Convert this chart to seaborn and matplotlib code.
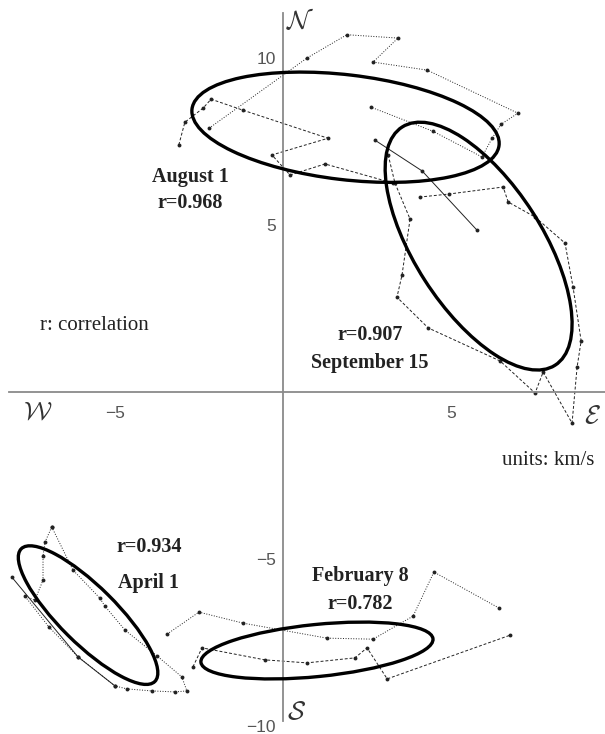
import matplotlib.pyplot as plt
import pandas as pd
import seaborn as sns
from matplotlib.patches import Ellipse

# hodograph traces (km/s)
aug_long_x = [-2.2, 0.71, 1.9, 3.42, 2.68, 4.29, 6.99, 6.49, 6.22, 5.92, 4.46, 2.62]
aug_long_y = [7.9, 10.0, 10.7, 10.6, 9.88, 9.64, 8.35, 8.02, 7.6, 7.04, 7.81, 8.53]
aug_short_x = [-3.10, -2.92, -2.38, -2.14, -1.19, 1.34, -0.33, 0.21, 1.25, 3.27]
aug_short_y = [7.40, 8.08, 8.50, 8.77, 8.44, 7.60, 7.10, 6.50, 6.83, 6.26]

sep_loop_x = [3.13, 3.33, 3.78, 3.54, 3.39, 4.32, 6.46, 7.5, 7.74, 8.60, 8.75, 8.87,
              8.63, 8.39, 7.5, 6.70, 6.55, 4.94, 4.08]
sep_loop_y = [7.10, 6.26, 5.18, 3.50, 2.84, 1.92, 0.93, -0.03, 0.60, -0.93, 0.75, 1.53,
              3.14, 4.46, 5.24, 5.69, 6.14, 5.93, 5.84]
sep_line_x = [2.74, 4.14, 5.77]
sep_line_y = [7.54, 6.62, 4.85]

apr_loop_x = [-6.88, -6.25, -5.45, -5.30, -4.70, -3.75, -3.01, -2.86, -3.21, -3.90,
              -4.64, -5.0, -6.10, -6.96, -7.68, -7.38, -7.14, -7.14, -7.08, -6.88]
apr_loop_y = [-4.04, -5.33, -6.17, -6.41, -7.13, -7.90, -8.53, -8.95, -8.98, -8.95,
              -8.89, -8.80, -7.93, -7.04, -6.11, -6.23, -5.63, -4.91, -4.49, -4.04]
apr_line_x = [-8.07, -6.10, -5.0]
apr_line_y = [-5.54, -7.93, -8.80]

feb_top_x = [-3.45, -2.5, -1.19, 1.31, 2.68, 3.87, 4.49, 6.43]
feb_top_y = [-7.25, -6.59, -6.92, -7.37, -7.40, -6.71, -5.39, -6.47]
feb_low_x = [-2.68, -2.41, -0.54, 0.71, 2.14, 2.5, 3.10, 6.76]
feb_low_y = [-8.23, -7.66, -8.02, -8.11, -7.96, -7.66, -8.59, -7.28]

# correlation ellipses: centre, semi-axes, tilt (deg)
ell_cx = [1.86, 5.82, -5.80, 1.01]
ell_cy = [7.93, 4.37, -6.68, -7.74]
ell_a = [4.6, 4.23, 2.81, 3.47]
ell_b = [1.57, 1.90, 0.85, 0.78]
ell_ang = [-6.8, -57.5, -45.0, 5.8]

sns.set_style("white")
plt.rcParams["font.family"] = ["Liberation Serif", "DejaVu Serif"]
plt.rcParams["mathtext.fontset"] = "cm"

fig = plt.figure(figsize=(6.05, 7.34), dpi=100)
ax = fig.add_axes([0, 0, 1, 1])
ax.set_xlim(-8.42, 9.58)
ax.set_ylim(-10.24, 11.74)

traces = [
    (aug_long_x, aug_long_y, ":"),
    (aug_short_x, aug_short_y, (0, (3, 2))),
    (sep_loop_x, sep_loop_y, (0, (3, 2))),
    (sep_line_x, sep_line_y, "-"),
    (apr_loop_x, apr_loop_y, ":"),
    (apr_line_x, apr_line_y, "-"),
    (feb_top_x, feb_top_y, ":"),
    (feb_low_x, feb_low_y, (0, (3, 2))),
]
for xs, ys, ls in traces:
    df = pd.DataFrame({"x": xs, "y": ys})
    sns.lineplot(data=df, x="x", y="y", sort=False, estimator=None, ax=ax,
                 color="#222222", linewidth=0.7, linestyle=ls,
                 marker="o", markersize=2.8, markeredgewidth=0)

for cx, cy, a, b, ang in zip(ell_cx, ell_cy, ell_a, ell_b, ell_ang):
    ax.add_patch(Ellipse((cx, cy), 2 * a, 2 * b, angle=ang, fill=False,
                         edgecolor="black", linewidth=2.4, zorder=5))

# axes through the origin
for side in ["top", "right"]:
    ax.spines[side].set_visible(False)
ax.spines["left"].set_position(("data", 0))
ax.spines["bottom"].set_position(("data", 0))
ax.spines["left"].set_bounds(-9.85, 11.35)
ax.spines["bottom"].set_bounds(-8.15, 9.58)
for side in ["left", "bottom"]:
    ax.spines[side].set_color("#8a8a8a")
    ax.spines[side].set_linewidth(1.3)

ax.set_xticks([-5, 5])
ax.set_yticks([-10, -5, 5, 10])
ax.set_xticks(range(-8, 10), minor=True)
ax.set_yticks(range(-9, 12), minor=True)
ax.tick_params(which="both", direction="in", color="#9a9a9a", width=0.8)
ax.tick_params(which="major", length=4)
ax.tick_params(which="minor", length=2.5)
ax.tick_params(axis="both", labelsize=12.5, labelcolor="#555555")
ax.tick_params(axis="x", pad=10)
ax.tick_params(axis="y", pad=5)
ax.set_xticklabels(["\u22125", "5"])
ax.set_yticklabels(["\u221210", "\u22125", "5", "10"])
for lab in ax.get_xticklabels() + ax.get_yticklabels():
    lab.set_family(["Liberation Sans", "DejaVu Sans"])
ax.set_xlabel("")
ax.set_ylabel("")

# compass letters
for txt, x, y in [("N", 0.5, 11.1), ("W", -7.29, -0.6), ("E", 9.2, -0.72), ("S", 0.39, -9.6)]:
    ax.text(x, y, r"$\mathcal{%s}$" % txt, fontsize=19, ha="center", va="center",
            color="#333333")

bold = dict(fontsize=14.5, fontweight="bold", ha="center", va="center", color="#222222")
ax.text(-2.77, 6.44, "August 1", **bold)
ax.text(-2.77, 5.66, "r=0.968", **bold)
ax.text(2.59, 1.71, "r=0.907", **bold)
ax.text(2.59, 0.87, "September 15", **bold)
ax.text(-3.99, -4.64, "r=0.934", **bold)
ax.text(-3.99, -5.72, "April 1", **bold)
ax.text(2.29, -5.51, "February 8", **bold)
ax.text(2.29, -6.35, "r=0.782", **bold)

ax.text(-7.23, 1.98, "r: correlation", fontsize=15, ha="left", va="center", color="#222222")
ax.text(6.52, -2.04, "units: km/s", fontsize=15, ha="left", va="center", color="#222222")

fig.savefig("out.png", dpi=100)
